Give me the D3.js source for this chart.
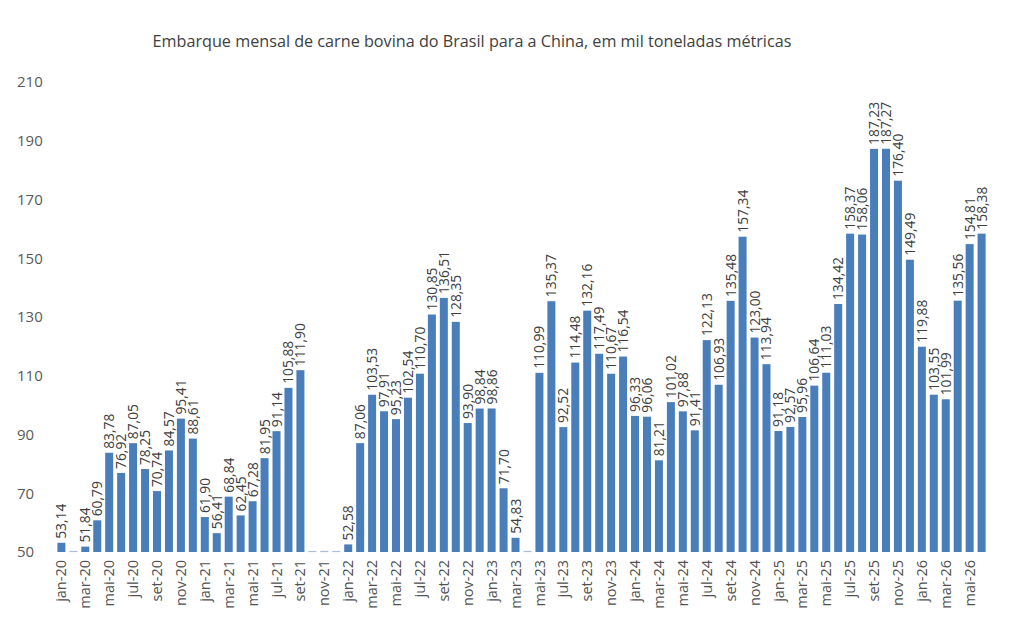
<!DOCTYPE html>
<html><head><meta charset="utf-8">
<script src="https://cdn.jsdelivr.net/npm/d3@7"></script>
<style>body{margin:0;background:#fff;} svg{display:block;font-family:"Open Sans","Liberation Sans",sans-serif;}</style>
</head><body>
<svg id="chart" width="1022" height="630"></svg>
<script>
const years = ["20","21","22","23","24","25","26"];
const monthNames = ["jan","fev","mar","abr","mai","jun","jul","ago","set","out","nov","dez"];
const categories = [];
years.forEach(y => monthNames.forEach(m => categories.push(m + "-" + y)));
categories.splice(78);
const values = [
  53.14, null, 51.84, 60.79, 83.78, 76.92, 87.05, 78.25, 70.74, 84.57, 95.41, 88.61,
  61.90, 56.41, 68.84, 62.45, 67.28, 81.95, 91.14, 105.88, 111.90, null, null, null,
  52.58, 87.06, 103.53, 97.91, 95.23, 102.54, 110.70, 130.85, 136.51, 128.35, 93.90, 98.84,
  98.86, 71.70, 54.83, null, 110.99, 135.37, 92.52, 114.48, 132.16, 117.49, 110.67, 116.54,
  96.33, 96.06, 81.21, 101.02, 97.88, 91.41, 122.13, 106.93, 135.48, 157.34, 123.00, 113.94,
  91.18, 92.57, 95.96, 106.64, 111.03, 134.42, 158.37, 158.06, 187.23, 187.27, 176.40, 149.49,
  119.88, 103.55, 101.99, 135.56, 154.81, 158.38
];
const yTicks = [50, 70, 90, 110, 130, 150, 170, 190, 210];
const title = "Embarque mensal de carne bovina do Brasil para a China, em mil toneladas métricas";

const svg = d3.select("#chart");
const margin = {left: 55, right: 34, top: 82, bottom: 78};
const W = 1022, H = 630;
const x = d3.scaleBand().domain(categories).range([margin.left, W - margin.right]).paddingInner(0.33).paddingOuter(0.2);
const y = d3.scaleLinear().domain([50, 210]).range([H - margin.bottom, margin.top]);

svg.append("text").attr("x", 472).attr("y", 47).attr("text-anchor", "middle")
  .attr("font-size", 16.2).attr("fill", "#404040").text(title);

// y axis labels
const ya = svg.append("g").attr("transform", `translate(17,0)`)
  .call(d3.axisLeft(y).tickValues(yTicks).tickSize(0).tickFormat(d3.format("d")));
ya.select(".domain").remove();
ya.selectAll("text").attr("text-anchor", "start").attr("x", 0).attr("font-size", 15)
  .attr("fill", "#595959").attr("font-family", "'Open Sans','Liberation Sans',sans-serif");

const data = categories.map((c, i) => ({c, v: values[i]}));

// zero-height markers for months without a visible value
svg.append("g").selectAll("line").data(data.filter(d => d.v == null)).join("line")
  .attr("x1", d => x(d.c)).attr("x2", d => x(d.c) + x.bandwidth())
  .attr("y1", y(50) - 0.5).attr("y2", y(50) - 0.5)
  .attr("stroke", "#a9bcd8").attr("stroke-width", 1.2);

svg.append("g").selectAll("rect").data(data.filter(d => d.v != null)).join("rect")
  .attr("x", d => x(d.c)).attr("width", x.bandwidth())
  .attr("y", d => y(d.v)).attr("height", d => y(50) - y(d.v))
  .attr("fill", "#4a7ebb");

// value labels
svg.append("g").selectAll("text").data(data.filter(d => d.v != null)).join("text")
  .attr("transform", d => `translate(${x(d.c) + x.bandwidth()/2 + 5},${y(d.v) - 4}) rotate(-90)`)
  .attr("font-size", 13.8).attr("fill", "#404040")
  .text(d => d3.format(".2f")(d.v).replace(".", ","));

// x axis labels
const xa = svg.append("g").attr("transform", `translate(0,${y(50)})`)
  .call(d3.axisBottom(x).tickValues(categories.filter((c, i) => i % 2 === 0)).tickSize(0));
xa.select(".domain").remove();
xa.selectAll("text").attr("transform", "rotate(-90)").attr("text-anchor", "end")
  .attr("x", -8).attr("y", 0).attr("dy", "0.35em").attr("font-size", 14.5)
  .attr("fill", "#505050").attr("font-family", "'Open Sans','Liberation Sans',sans-serif");
</script>
</body></html>
